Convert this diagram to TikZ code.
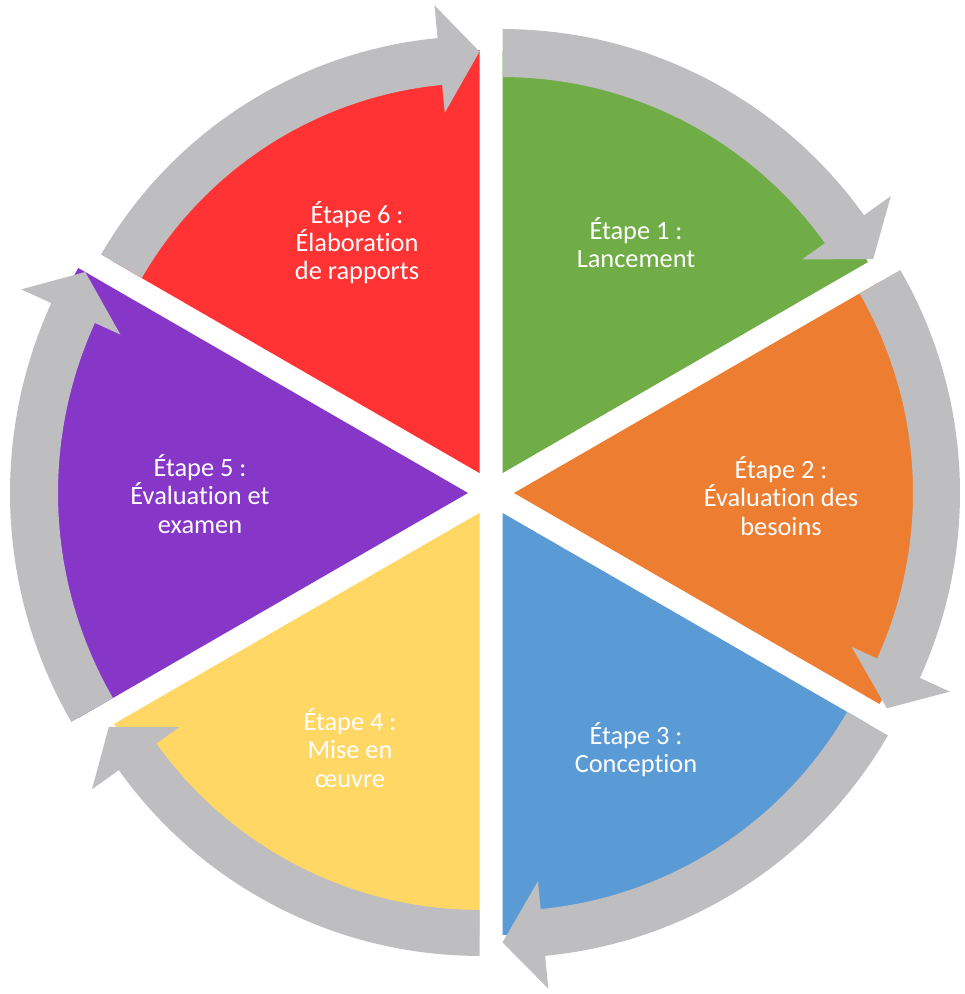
\documentclass[tikz,border=0pt]{standalone}
\usepackage{fontspec}
\setmainfont[Ligatures=NoCommon]{Carlito}
\usetikzlibrary{calc}

\definecolor{cgreen}{RGB}{112,173,71}
\definecolor{corange}{RGB}{237,125,49}
\definecolor{cblue}{RGB}{91,155,213}
\definecolor{cyellow}{RGB}{255,215,100}
\definecolor{cpurple}{RGB}{135,55,200}
\definecolor{cred}{RGB}{255,51,51}
\definecolor{arrowgray}{RGB}{190,190,192}

\tikzset{
  steplabel/.style={text=white, align=center, inner sep=0pt,
    font=\fontsize{15}{16}\selectfont}
}

\begin{document}
\begin{tikzpicture}[x=0.02cm, y=0.02cm]
  \useasboundingbox (0,0) rectangle (964,994);
  \coordinate (C) at (491,501);

  % exploded pie segments, each pushed out along its bisector
  % bisector / colour / segment radius
  \foreach \a/\col/\R in {60/cgreen/422, 0/corange/422, -60/cblue/422,
                          -120/cyellow/422, 180/cpurple/450, 120/cred/423}{
    \coordinate (A) at ($(C)+(\a:23)$);
    \fill[\col] (A) -- ($(A)+(\a+30:\R)$)
      arc[start angle=\a+30, end angle=\a-30, radius=\R] -- cycle;
  }

  % clockwise circular arrows around each segment
  % bisector / inner radius / outer radius
  \foreach \a/\ri/\ro in {60/396/444, 0/399/446, -60/398/445,
                          -120/397/443, 180/410/458, 120/390/437}{
    \coordinate (A) at ($(C)+(\a:23)$);
    \pgfmathsetmacro{\hi}{\ri-28}
    \pgfmathsetmacro{\ho}{\ro+33}
    \pgfmathsetmacro{\tp}{(\ri+\ro)/2+8}
    \fill[arrowgray] ($(A)+(\a+30:\ro)$)
      arc[start angle=\a+30, end angle=\a-24.5, radius=\ro]
      -- ($(A)+(\a-24.5:\ho)$)
      -- ($(A)+(\a-30:\tp)$)
      -- ($(A)+(\a-24.5:\hi)$)
      -- ($(A)+(\a-24.5:\ri)$)
      arc[start angle=\a-24.5, end angle=\a+30, radius=\ri] -- cycle;
  }

  % stage labels
  \node[steplabel] (s1) at (636,751) {Étape 1 :\\Lancement};
  \node[steplabel] (s2) at (781,498) {Étape 2 :\\Évaluation des\\besoins};
  \node[steplabel] (s3) at (636,244) {Étape 3 :\\Conception};
  \node[steplabel] (s4) at (350,246) {Étape 4 :\\Mise en\\œuvre};
  \node[steplabel] (s5) at (200,500) {Étape 5 :\\Évaluation et\\examen};
  \node[steplabel] (s6) at (357,751) {Étape 6 :\\Élaboration\\de rapports};
\end{tikzpicture}
\end{document}
